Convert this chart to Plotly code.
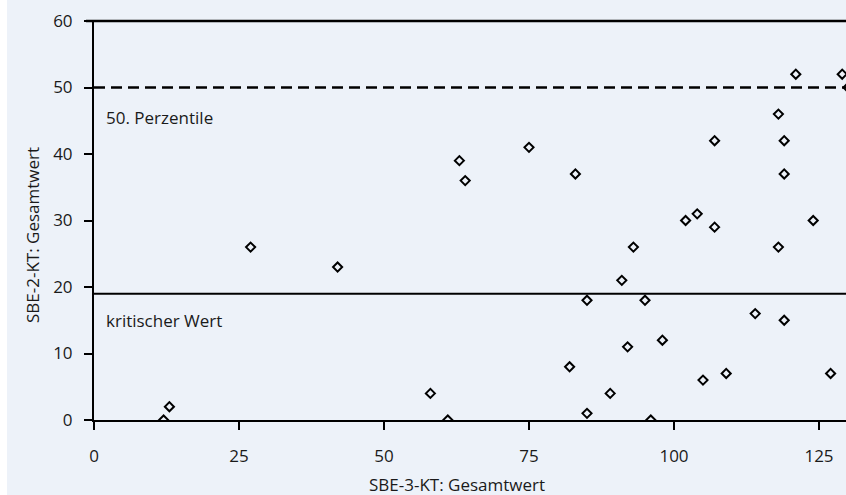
import plotly.graph_objects as go

# SBE-3-KT total (x) vs SBE-2-KT total (y)
sbe3_total = [12, 13, 27, 42, 58, 61, 63, 64, 75, 83, 82, 85, 85, 93, 102, 104, 107, 107,
              118, 119, 119, 121, 129, 124, 118, 130, 91, 95, 92, 98, 89, 96, 105, 109,
              114, 119, 127]
sbe2_total = [0, 2, 26, 23, 4, 0, 39, 36, 41, 37, 8, 18, 1, 26, 30, 31, 29, 42,
              46, 42, 37, 52, 52, 30, 26, 50, 21, 18, 11, 12, 4, 0, 6, 7,
              16, 15, 7]

percentile_50 = 50
critical_value = 19
x_ticks = [0, 25, 50, 75, 100, 125]
y_ticks = [0, 10, 20, 30, 40, 50, 60]
ref_labels = ["50. Perzentile", "kritischer Wert"]

FONT = "Open Sans"
BG = "#edf2f9"
W, H = 846, 495
L, R, T, B = 94, 0, 21, 75
PW, PH = W - L - R, H - T - B

fig = go.Figure()
fig.add_trace(go.Scatter(
    x=sbe3_total, y=sbe2_total, mode="markers",
    marker=dict(symbol="diamond-open", size=7, color="black",
                line=dict(color="black", width=2)),
    showlegend=False, hoverinfo="x+y"))

shapes = [
    # left white strip
    dict(type="rect", xref="paper", yref="paper",
         x0=(-2 - L) / PW, x1=(7 - L) / PW, y0=-0.3, y1=1.2,
         fillcolor="white", line=dict(width=0), layer="below"),
    # top border
    dict(type="line", xref="paper", yref="paper", x0=-8 / PW, x1=1, y0=1, y1=1,
         line=dict(color="black", width=2.5)),
    # reference lines
    dict(type="line", xref="x domain", yref="y", x0=0, x1=1,
         y0=percentile_50, y1=percentile_50,
         line=dict(color="black", width=2.5, dash="11px,6px")),
    dict(type="line", xref="x domain", yref="y", x0=0, x1=1,
         y0=critical_value, y1=critical_value,
         line=dict(color="black", width=2)),
]

annotations = [
    dict(text=ref_labels[0], xref="paper", yref="paper", x=(104 - L) / PW,
         y=(H - B - 117) / PH, xanchor="left", yanchor="middle", showarrow=False,
         font=dict(family=FONT, size=17, color="#1a1a1a")),
    dict(text=ref_labels[1], xref="paper", yref="paper", x=(104 - L) / PW,
         y=(H - B - 320) / PH, xanchor="left", yanchor="middle", showarrow=False,
         font=dict(family=FONT, size=17, color="#1a1a1a")),
    dict(text="SBE-3-KT: Gesamtwert", xref="paper", yref="paper",
         x=(456.5 - L) / PW, y=(H - B - 484) / PH, xanchor="center", yanchor="middle",
         showarrow=False, font=dict(family=FONT, size=17, color="#1a1a1a")),
    dict(text="SBE-2-KT: Gesamtwert", xref="paper", yref="paper", textangle=-90,
         x=(32 - L) / PW, y=(H - B - 235) / PH, xanchor="center", yanchor="middle",
         showarrow=False, font=dict(family=FONT, size=17, color="#1a1a1a")),
]

fig.update_layout(
    width=W, height=H,
    margin=dict(l=L, r=R, t=T, b=B, pad=0),
    paper_bgcolor=BG, plot_bgcolor=BG,
    font=dict(family=FONT, size=17, color="#1a1a1a"),
    shapes=shapes, annotations=annotations,
    xaxis=dict(range=[0, PW / 5.8], tickvals=x_ticks, ticks="outside", ticklen=8,
               tickwidth=1.5, tickcolor="black", showline=True, linecolor="black",
               linewidth=1.5, showgrid=False, zeroline=False, ticklabelstandoff=12,
               fixedrange=True),
    yaxis=dict(range=[0, 60], tickvals=y_ticks, ticks="outside", ticklen=8,
               tickwidth=1.5, tickcolor="black", showline=True, linecolor="black",
               linewidth=2, showgrid=False, zeroline=False, ticklabelstandoff=8,
               fixedrange=True),
)

fig.write_html(
    "out.html",
    config={"displayModeBar": False},
    post_script="document.body.style.margin='0';document.body.style.overflow='hidden';",
)
